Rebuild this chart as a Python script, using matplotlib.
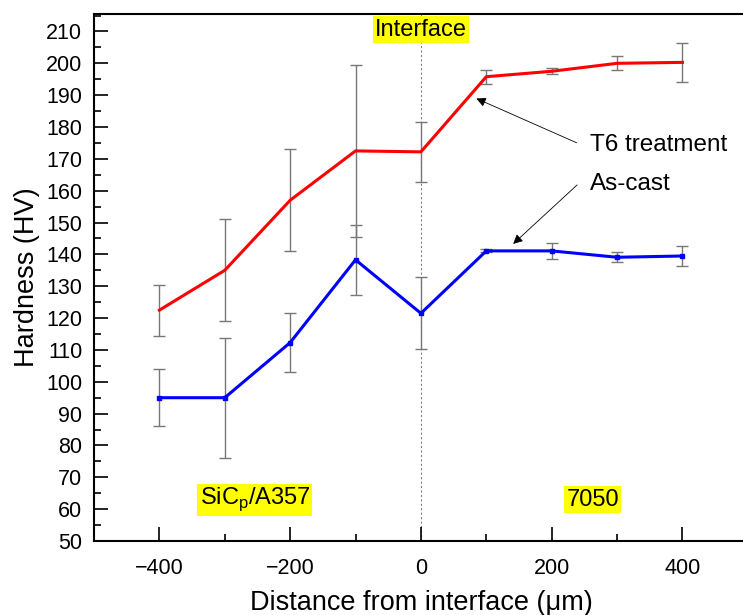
import matplotlib
matplotlib.use('Agg')
import matplotlib.pyplot as plt
from matplotlib.ticker import MultipleLocator

plt.rcParams['font.family'] = ['Liberation Sans', 'DejaVu Sans']

# 测量点 (distance from interface, um)
distance = [-400, -300, -200, -100, 0, 100, 200, 300, 400]

# T6 treatment
t6_hv = [122.5, 135.0, 157.0, 172.5, 172.2, 195.8, 197.5, 200.0, 200.3]
t6_err = [8.0, 16.0, 16.0, 27.0, 9.4, 2.2, 0.9, 2.2, 6.2]

# As-cast
cast_hv = [95.0, 95.0, 112.3, 138.3, 121.5, 141.1, 141.1, 139.1, 139.5]
cast_err = [8.9, 18.8, 9.2, 11.0, 11.3, 0.5, 2.6, 1.5, 3.2]

fig = plt.figure(figsize=(7.43, 6.15), dpi=100)
ax = fig.add_axes([0.1265, 0.1203, 0.88, 0.857])

ax.axvline(0, color='gray', lw=0.8, ls=(0, (2, 2)), zorder=1)

ax.errorbar(distance, t6_hv, yerr=t6_err, color='red', lw=2.2,
            ecolor='#777777', elinewidth=1.0, capsize=4, capthick=1.0, zorder=3)
ax.errorbar(distance, cast_hv, yerr=cast_err, color='blue', lw=2.2,
            marker='s', ms=3, ecolor='#777777', elinewidth=1.0, capsize=4,
            capthick=1.0, zorder=3)

ax.set_xlim(-500, 500)
ax.set_ylim(50, 215.5)
ax.xaxis.set_major_locator(MultipleLocator(200))
ax.xaxis.set_minor_locator(MultipleLocator(100))
ax.yaxis.set_major_locator(MultipleLocator(10))
ax.yaxis.set_minor_locator(MultipleLocator(5))
ax.tick_params(which='both', direction='in', labelsize=15.5, width=1.2)
ax.tick_params(which='major', length=10)
ax.tick_params(which='minor', length=5)
ax.tick_params(axis='x', pad=12)
ax.tick_params(axis='y', pad=8.5)
for s in ax.spines.values():
    s.set_linewidth(1.5)
ax.spines['right'].set_visible(False)

ax.set_xlabel('Distance from interface (μm)', fontsize=19.5, labelpad=8)
ax.set_ylabel('Hardness (HV)', fontsize=19.5, labelpad=4)

hl = dict(facecolor='yellow', edgecolor='none', pad=1.5)
ax.text(0, 210.6, 'Interface', fontsize=17, ha='center', va='center', bbox=hl)
ax.text(-254, 63, 'SiC$_\\mathregular{p}$/A357', fontsize=17, ha='center', va='center', bbox=hl)
ax.text(263, 63, '7050', fontsize=17, ha='center', va='center', bbox=hl)

arrow = dict(arrowstyle='-|>', color='black', lw=0.6, mutation_scale=14)
ax.annotate('', xy=(81, 189.3), xytext=(242, 174.7), arrowprops=arrow)
ax.annotate('', xy=(138, 142.7), xytext=(242, 162.4), arrowprops=arrow)
ax.text(259, 174.5, 'T6 treatment', fontsize=17.5, ha='left', va='center')
ax.text(259, 162, 'As-cast', fontsize=17.5, ha='left', va='center')

fig.savefig('out.png', dpi=100)
